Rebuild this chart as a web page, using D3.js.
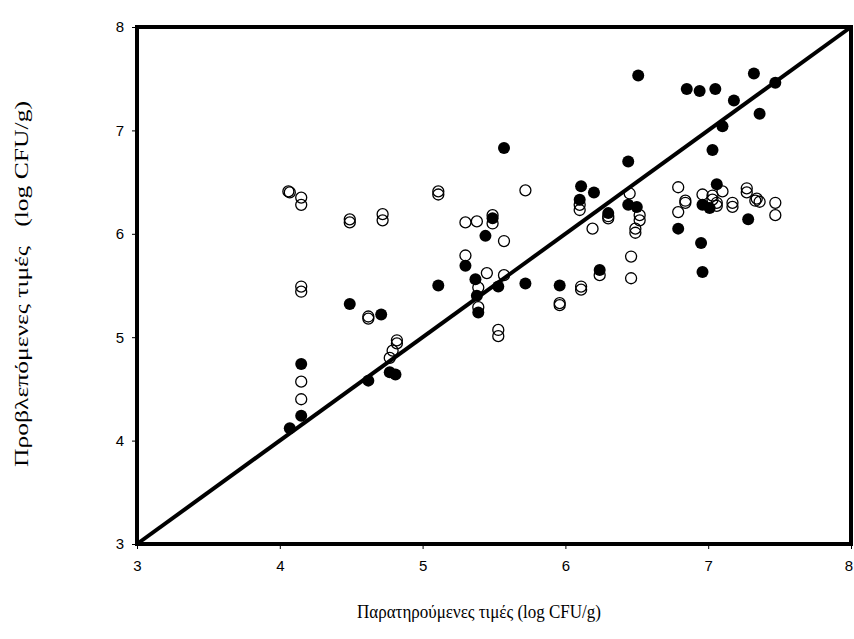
<!DOCTYPE html>
<html>
<head>
<meta charset="utf-8">
<script src="https://cdn.jsdelivr.net/npm/d3@7"></script>
<style>
  html, body { margin: 0; padding: 0; background: #fff; }
  svg { display: block; }
  text { white-space: pre; }
</style>
</head>
<body>
<svg id="chart" width="854" height="639"></svg>
<script>
// Observed vs. predicted counts (log CFU/g)
const filledObserved = [4.07, 4.15, 4.15, 4.62, 4.77, 4.81, 4.49, 4.71, 5.11, 5.30, 5.37, 5.38, 5.39, 5.44, 5.49, 5.53, 5.72, 5.57, 5.96, 6.10, 6.11, 6.20, 6.24, 6.30, 6.44, 6.44, 6.50, 6.51, 6.79, 6.85, 6.94, 6.95, 6.96, 6.96, 7.01, 7.03, 7.05, 7.06, 7.10, 7.18, 7.28, 7.32, 7.36, 7.47];
const filledPredicted = [4.12, 4.24, 4.74, 4.58, 4.66, 4.64, 5.32, 5.22, 5.50, 5.69, 5.56, 5.40, 5.24, 5.98, 6.15, 5.49, 5.52, 6.83, 5.50, 6.33, 6.46, 6.40, 5.65, 6.20, 6.70, 6.28, 6.26, 7.53, 6.05, 7.40, 7.38, 5.91, 5.63, 6.28, 6.25, 6.81, 7.40, 6.48, 7.04, 7.29, 6.14, 7.55, 7.16, 7.46];

const openObserved = [4.06, 4.07, 4.15, 4.15, 4.49, 4.49, 4.72, 4.72, 4.15, 4.15, 4.15, 4.15, 4.62, 4.62, 4.77, 4.79, 4.82, 4.82, 5.11, 5.11, 5.30, 5.38, 5.49, 5.49, 5.57, 5.30, 5.45, 5.57, 5.39, 5.39, 5.53, 5.53, 5.72, 5.96, 5.96, 6.10, 6.10, 6.11, 6.11, 6.19, 6.24, 6.30, 6.30, 6.45, 6.52, 6.52, 6.49, 6.49, 6.46, 6.46, 6.79, 6.79, 6.84, 6.84, 6.96, 7.03, 7.03, 7.06, 7.06, 7.10, 7.17, 7.17, 7.27, 7.27, 7.33, 7.36, 7.34, 7.47, 7.47];
const openPredicted = [6.41, 6.40, 6.35, 6.28, 6.14, 6.11, 6.19, 6.13, 5.49, 5.44, 4.57, 4.40, 5.20, 5.18, 4.80, 4.87, 4.94, 4.97, 6.41, 6.38, 6.11, 6.12, 6.18, 6.10, 5.93, 5.79, 5.62, 5.60, 5.48, 5.29, 5.07, 5.01, 6.42, 5.33, 5.31, 6.28, 6.23, 5.49, 5.46, 6.05, 5.60, 6.15, 6.17, 6.39, 6.18, 6.13, 6.05, 6.01, 5.78, 5.57, 6.45, 6.21, 6.32, 6.30, 6.38, 6.37, 6.33, 6.30, 6.27, 6.41, 6.30, 6.26, 6.44, 6.40, 6.32, 6.31, 6.34, 6.30, 6.18];

const xTicks = [3, 4, 5, 6, 7, 8];
const yTicks = [3, 4, 5, 6, 7, 8];
const axisDomain = [3, 8];
const xTitle = "Παρατηρούμενες τιμές (log CFU/g)";
const yTitle = "Προβλεπόμενες τιμές   (log CFU/g)";

const svg = d3.select("#chart");
const plotLeft = 137, plotRight = 851, plotTop = 27, plotBottom = 544;

const x = d3.scaleLinear().domain(axisDomain).range([plotLeft, plotRight]);
const y = d3.scaleLinear().domain(axisDomain).range([plotBottom, plotTop]);

const tickFont = "'Liberation Sans', Arial, sans-serif";
const titleFont = "'Liberation Serif', 'Times New Roman', serif";

// axes with short outward ticks
const xAxis = svg.append("g")
  .attr("transform", `translate(0,${plotBottom})`)
  .call(d3.axisBottom(x).tickValues(xTicks).tickFormat(d3.format("d")).tickSize(5).tickPadding(11).tickSizeOuter(0));
const yAxis = svg.append("g")
  .attr("transform", `translate(${plotLeft},0)`)
  .call(d3.axisLeft(y).tickValues(yTicks).tickFormat(d3.format("d")).tickSize(5).tickPadding(8).tickSizeOuter(0));

[xAxis, yAxis].forEach(g => {
  g.select(".domain").remove();
  g.selectAll(".tick line").attr("stroke", "#000").attr("stroke-width", 1);
  g.selectAll(".tick text")
    .attr("font-family", tickFont)
    .attr("font-size", 15)
    .attr("fill", "#000");
});

// keep the last x label inside the page edge
xAxis.selectAll(".tick text")
  .filter(d => d === xTicks[xTicks.length - 1])
  .attr("text-anchor", "end")
  .attr("dx", 852 - x(xTicks[xTicks.length - 1]) + 0.5);

// 1:1 reference line
svg.append("line")
  .attr("x1", x(axisDomain[0])).attr("y1", y(axisDomain[0]))
  .attr("x2", x(axisDomain[1])).attr("y2", y(axisDomain[1]))
  .attr("stroke", "#000").attr("stroke-width", 4);

// open markers
svg.append("g").selectAll("circle")
  .data(openObserved.map((v, i) => [v, openPredicted[i]]))
  .join("circle")
  .attr("cx", d => x(d[0])).attr("cy", d => y(d[1]))
  .attr("r", 5.5)
  .attr("fill", "none").attr("stroke", "#000").attr("stroke-width", 1.3);

// filled markers
svg.append("g").selectAll("circle")
  .data(filledObserved.map((v, i) => [v, filledPredicted[i]]))
  .join("circle")
  .attr("cx", d => x(d[0])).attr("cy", d => y(d[1]))
  .attr("r", 6)
  .attr("fill", "#000");

// plot frame
svg.append("rect")
  .attr("x", plotLeft).attr("y", plotTop)
  .attr("width", plotRight - plotLeft).attr("height", plotBottom - plotTop)
  .attr("fill", "none").attr("stroke", "#000").attr("stroke-width", 4);

// axis titles
svg.append("text")
  .attr("x", 479).attr("y", 618)
  .attr("text-anchor", "middle")
  .attr("font-family", titleFont).attr("font-size", 19)
  .attr("textLength", 244).attr("lengthAdjust", "spacingAndGlyphs")
  .text(xTitle);

svg.append("text")
  .attr("transform", "translate(28,284) rotate(-90)")
  .attr("text-anchor", "middle")
  .attr("font-family", titleFont).attr("font-size", 18)
  .attr("textLength", 366).attr("lengthAdjust", "spacingAndGlyphs")
  .text(yTitle);
</script>
</body>
</html>
